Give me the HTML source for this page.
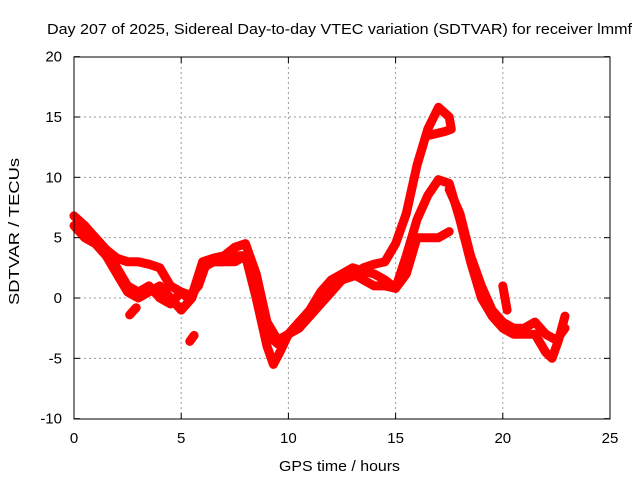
<!DOCTYPE html>
<html><head><meta charset="utf-8"><style>
body{margin:0;background:#fff}
svg{display:block;font-family:"Liberation Sans",sans-serif}
</style></head><body>
<svg id="chart" width="640" height="480" viewBox="0 0 640 480">
<text x="47" y="34" font-size="15" textLength="585" lengthAdjust="spacingAndGlyphs" fill="#000">Day 207 of 2025, Sidereal Day-to-day VTEC variation (SDTVAR) for receiver lmmf</text>
<g id="grid"></g>
<g id="series"></g>
<rect x="74" y="57" width="536" height="362" fill="none" stroke="#000" stroke-width="1"/>
<g id="axes"></g>
<text x="279" y="471" font-size="15" textLength="121" lengthAdjust="spacingAndGlyphs">GPS time / hours</text>
<text transform="translate(19,305) rotate(-90)" font-size="15" textLength="147" lengthAdjust="spacingAndGlyphs">SDTVAR / TECUs</text>
</svg>
<script>
const xTicks=[0,5,10,15,20,25];
const yTicks=[-10,-5,0,5,10,15,20];
const s1t=[0,0.5,1,1.5,2,2.5,3,3.5,4,4.5,5,5.5,6,6.5,7,7.5,8,8.5,9,9.5,10,10.5,11,11.5,12,12.5,13,13.5,14,14.5,15,15.5,16,16.5,17,17.5,17.6,17.3,16.6];
const s1v=[6.8,6,5,4,3.3,3,3,2.8,2.5,1,0.5,0.2,3,3.3,3.5,4.2,4.5,2,-2,-3.5,-3,-2.5,-1.5,0,1,1.5,1.8,2.5,2.8,3,4.5,7,11,14,15.8,15,14,13.8,13.5];
const s2t=[0,0.5,1,1.5,2,2.5,3,3.5,4,4.5,5,5.5,6,6.5,7,7.5,8,8.5,9,9.3,9.6,10,10.5,11,11.5,12,12.5,13,13.5,14,14.5,15,15.5,16,16.5,17,17.5,18,18.5,19,19.5,20,20.5,21,21.5,22,22.3,22.6,22.9];
const s2v=[6,5,4.5,3.5,2,0.5,0,0.5,1,0,-1,0,2.5,3,3,3.5,3.5,0,-4,-5.5,-4.5,-3,-2,-1.5,-0.5,0.5,1.5,2,1.5,1,1,0.8,3.5,6.5,8.5,9.8,9.5,6.5,3,0,-1.5,-2.5,-3,-3,-3,-4.5,-5,-3.5,-1.5];
const s3t=[0.3,1,1.5,2,2.5,3,3.5,4,4.5,5,5.3,5.8,6.2,6.5,7,7.5,8,8.5,9,9.5,10,10.5,11,11.5,12,12.5,13,13.5,14,14.5,15,15.5,16,16.5,17,17.5];
const s3v=[5.5,5,4,2.5,1,0.5,1,0,-0.5,0.5,0,1,3,3,3,3,3.5,1,-3,-3.8,-3,-2,-1,0.5,1.5,2,2.5,2.2,2,1.5,0.8,2,5,5,5,5.5];
const s4t=[17.5,18,18.5,19,19.5,20,20.5,21,21.5,22,22.5,22.9];
const s4v=[9,7,3.5,1,-1,-2,-2.5,-2.5,-2,-3,-3.5,-2.5];
const s5t=[2.6,2.9];const s5v=[-1.4,-0.8];
const s6t=[5.4,5.6];const s6v=[-3.6,-3.1];
const s7t=[20,20.2];const s7v=[1,-1];
const xS=t=>74+t*536/25;
const yS=v=>298-v*362/30;
const NS="http://www.w3.org/2000/svg";
const grid=document.getElementById('grid'),axes=document.getElementById('axes'),ser=document.getElementById('series');
function mk(tag,attrs,parent){const e=document.createElementNS(NS,tag);for(const k in attrs)e.setAttribute(k,attrs[k]);parent.appendChild(e);return e;}
xTicks.forEach(t=>{const x=xS(t);
 if(t>0&&t<25){const g=mk('line',{x1:x,x2:x,y1:57,y2:419,stroke:'#999','stroke-dasharray':'2,3'},grid);}
 const a=mk('line',{x1:x,x2:x,y1:419,y2:413,stroke:'#000'},axes);
 const b=mk('line',{x1:x,x2:x,y1:57,y2:63,stroke:'#000'},axes);
 const l=mk('text',{x:x,y:443,'font-size':15,'text-anchor':'middle'},axes);l.textContent=t;});
yTicks.forEach(v=>{const y=yS(v);
 if(v>-10&&v<20){const g=mk('line',{x1:74,x2:610,y1:y,y2:y,stroke:'#999','stroke-dasharray':'2,3'},grid);}
 const a=mk('line',{x1:74,x2:80,y1:y,y2:y,stroke:'#000'},axes);
 const b=mk('line',{x1:604,x2:610,y1:y,y2:y,stroke:'#000'},axes);
 const l=mk('text',{x:62,y:y+5,'font-size':15,'text-anchor':'end'},axes);l.textContent=v;});
[[s1t,s1v],[s2t,s2v],[s3t,s3v],[s4t,s4v],[s5t,s5v],[s6t,s6v],[s7t,s7v]].forEach((s,i)=>{
 const pts=s[0].map((t,j)=>xS(t).toFixed(1)+','+yS(s[1][j]).toFixed(1)).join(' ');
 const p=mk('polyline',{points:pts,fill:'none',stroke:'#f00','stroke-width':9,'stroke-linejoin':'round','stroke-linecap':'round'},ser);
 
 
});
</script>
</body></html>
